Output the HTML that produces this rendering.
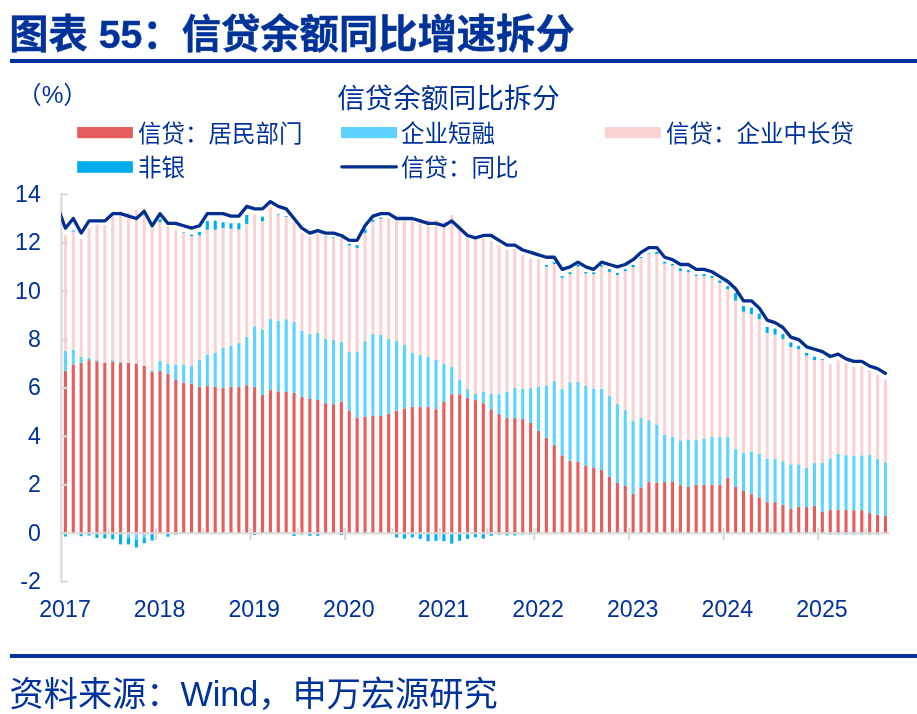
<!DOCTYPE html>
<html lang="zh-CN">
<head>
<meta charset="utf-8">
<title>图表 55：信贷余额同比增速拆分</title>
<style>
html,body{margin:0;padding:0;background:#fff;}
body{width:917px;height:714px;overflow:hidden;position:relative;font-family:"Liberation Sans","Noto Sans CJK SC",sans-serif;color:#003399;}
svg{position:absolute;left:0;top:0;display:block;}
svg text{font-family:"Liberation Sans","Noto Sans CJK SC",sans-serif;fill:#003399;}
.ax{font-size:23.2px;}
.ay{font-size:23.2px;}
.lg{font-size:23.5px;}
h1{position:absolute;left:9.2px;top:10px;margin:0;font-size:39.3px;line-height:48px;font-weight:bold;-webkit-text-stroke:0.4px #003399;white-space:nowrap;color:#003399;letter-spacing:0;}
.rule1{position:absolute;left:10px;top:59px;width:907px;height:4px;background:#003399;}
.rule2{position:absolute;left:10px;top:654px;width:907px;height:4px;background:#003399;}
.src{position:absolute;left:9.5px;top:672.3px;margin:0;font-size:34.2px;line-height:44px;white-space:nowrap;color:#003399;}
</style>
</head>
<body>
<h1>图表 55：信贷余额同比增速拆分</h1>
<div class="rule1"></div>
<svg width="917" height="714" viewBox="0 0 917 714">
<text x="17.3" y="103.3" style="font-size:24.4px">（%）</text>
<text x="448.5" y="108" text-anchor="middle" style="font-size:27.8px">信贷余额同比拆分</text>
<rect x="77.2" y="127" width="55.7" height="11.2" fill="#E55D5D"/>
<text x="138" y="141.5" class="lg">信贷：居民部门</text>
<rect x="341.1" y="127" width="55.9" height="11.2" fill="#5FD3FF"/>
<text x="401" y="141.5" class="lg">企业短融</text>
<rect x="605" y="127" width="55.7" height="11.2" fill="#FAD2D2"/>
<text x="666" y="141.5" class="lg">信贷：企业中长贷</text>
<rect x="77.2" y="161.2" width="55.7" height="11.6" fill="#00ADEE"/>
<text x="138" y="176" class="lg">非银</text>
<line x1="341.9" y1="166.8" x2="396.3" y2="166.8" stroke="#002F8F" stroke-width="3.3" stroke-linecap="round"/>
<text x="401" y="176" class="lg">信贷：同比</text>
<g>
<rect x="63.85" y="371.06" width="3.1" height="162.24" fill="#E55D5D"/>
<rect x="63.85" y="351" width="3.1" height="20.06" fill="#5FD3FF"/>
<rect x="63.85" y="234.8" width="3.1" height="116.2" fill="#FAD2D2"/>
<rect x="63.85" y="533.3" width="3.1" height="3.2" fill="#00ADEE"/>
<rect x="71.74" y="364.6" width="3.1" height="168.7" fill="#E55D5D"/>
<rect x="71.74" y="349.6" width="3.1" height="15" fill="#5FD3FF"/>
<rect x="71.74" y="231.4" width="3.1" height="118.2" fill="#FAD2D2"/>
<rect x="71.74" y="230.4" width="3.1" height="1" fill="#00ADEE"/>
<rect x="79.62" y="362.9" width="3.1" height="170.4" fill="#E55D5D"/>
<rect x="79.62" y="356.6" width="3.1" height="6.3" fill="#5FD3FF"/>
<rect x="79.62" y="238.9" width="3.1" height="117.7" fill="#FAD2D2"/>
<rect x="79.62" y="533.3" width="3.1" height="2.9" fill="#00ADEE"/>
<rect x="87.51" y="360.2" width="3.1" height="173.1" fill="#E55D5D"/>
<rect x="87.51" y="358" width="3.1" height="2.2" fill="#5FD3FF"/>
<rect x="87.51" y="227.9" width="3.1" height="130.1" fill="#FAD2D2"/>
<rect x="87.51" y="533.3" width="3.1" height="2.2" fill="#00ADEE"/>
<rect x="95.39" y="361.3" width="3.1" height="172" fill="#E55D5D"/>
<rect x="95.39" y="360.1" width="3.1" height="1.2" fill="#5FD3FF"/>
<rect x="95.39" y="224.5" width="3.1" height="135.6" fill="#FAD2D2"/>
<rect x="95.39" y="533.3" width="3.1" height="4.6" fill="#00ADEE"/>
<rect x="103.28" y="362.9" width="3.1" height="170.4" fill="#E55D5D"/>
<rect x="103.28" y="224.9" width="3.1" height="138" fill="#FAD2D2"/>
<rect x="103.28" y="533.3" width="3.1" height="5.1" fill="#00ADEE"/>
<rect x="111.16" y="361.5" width="3.1" height="171.8" fill="#E55D5D"/>
<rect x="111.16" y="360.1" width="3.1" height="1.4" fill="#5FD3FF"/>
<rect x="111.16" y="216.2" width="3.1" height="143.9" fill="#FAD2D2"/>
<rect x="111.16" y="533.3" width="3.1" height="6" fill="#00ADEE"/>
<rect x="119.05" y="362.9" width="3.1" height="170.4" fill="#E55D5D"/>
<rect x="119.05" y="362" width="3.1" height="0.9" fill="#5FD3FF"/>
<rect x="119.05" y="211.3" width="3.1" height="150.7" fill="#FAD2D2"/>
<rect x="119.05" y="533.3" width="3.1" height="11.1" fill="#00ADEE"/>
<rect x="126.93" y="362.9" width="3.1" height="170.4" fill="#E55D5D"/>
<rect x="126.93" y="212" width="3.1" height="150.9" fill="#FAD2D2"/>
<rect x="126.93" y="533.3" width="3.1" height="4.6" fill="#5FD3FF"/>
<rect x="126.93" y="537.9" width="3.1" height="6.5" fill="#00ADEE"/>
<rect x="134.81" y="363.6" width="3.1" height="169.7" fill="#E55D5D"/>
<rect x="134.81" y="209.7" width="3.1" height="153.9" fill="#FAD2D2"/>
<rect x="134.81" y="533.3" width="3.1" height="6.7" fill="#5FD3FF"/>
<rect x="134.81" y="540" width="3.1" height="7.5" fill="#00ADEE"/>
<rect x="142.7" y="366" width="3.1" height="167.3" fill="#E55D5D"/>
<rect x="142.7" y="208" width="3.1" height="158" fill="#FAD2D2"/>
<rect x="142.7" y="533.3" width="3.1" height="4.3" fill="#5FD3FF"/>
<rect x="142.7" y="537.6" width="3.1" height="5.6" fill="#00ADEE"/>
<rect x="150.58" y="371.6" width="3.1" height="161.7" fill="#E55D5D"/>
<rect x="150.58" y="370.2" width="3.1" height="1.4" fill="#5FD3FF"/>
<rect x="150.58" y="226" width="3.1" height="144.2" fill="#FAD2D2"/>
<rect x="150.58" y="533.3" width="3.1" height="7.2" fill="#00ADEE"/>
<rect x="158.47" y="371.06" width="3.1" height="162.24" fill="#E55D5D"/>
<rect x="158.47" y="360.8" width="3.1" height="10.26" fill="#5FD3FF"/>
<rect x="158.47" y="222.3" width="3.1" height="138.5" fill="#FAD2D2"/>
<rect x="158.47" y="219.3" width="3.1" height="3" fill="#00ADEE"/>
<rect x="166.35" y="373.7" width="3.1" height="159.6" fill="#E55D5D"/>
<rect x="166.35" y="363.9" width="3.1" height="9.8" fill="#5FD3FF"/>
<rect x="166.35" y="225.8" width="3.1" height="138.1" fill="#FAD2D2"/>
<rect x="166.35" y="533.3" width="3.1" height="3.4" fill="#00ADEE"/>
<rect x="174.24" y="380" width="3.1" height="153.3" fill="#E55D5D"/>
<rect x="174.24" y="364.6" width="3.1" height="15.4" fill="#5FD3FF"/>
<rect x="174.24" y="229.8" width="3.1" height="134.8" fill="#FAD2D2"/>
<rect x="174.24" y="533.3" width="3.1" height="1.2" fill="#00ADEE"/>
<rect x="182.12" y="382.75" width="3.1" height="150.55" fill="#E55D5D"/>
<rect x="182.12" y="364.6" width="3.1" height="18.15" fill="#5FD3FF"/>
<rect x="182.12" y="232.75" width="3.1" height="131.85" fill="#FAD2D2"/>
<rect x="182.12" y="232.2" width="3.1" height="0.55" fill="#00ADEE"/>
<rect x="190.01" y="383.8" width="3.1" height="149.5" fill="#E55D5D"/>
<rect x="190.01" y="366" width="3.1" height="17.8" fill="#5FD3FF"/>
<rect x="190.01" y="236.2" width="3.1" height="129.8" fill="#FAD2D2"/>
<rect x="190.01" y="234.7" width="3.1" height="1.5" fill="#00ADEE"/>
<rect x="197.89" y="386.6" width="3.1" height="146.7" fill="#E55D5D"/>
<rect x="197.89" y="359.9" width="3.1" height="26.7" fill="#5FD3FF"/>
<rect x="197.89" y="235.4" width="3.1" height="124.5" fill="#FAD2D2"/>
<rect x="197.89" y="231.9" width="3.1" height="3.5" fill="#00ADEE"/>
<rect x="205.78" y="386.1" width="3.1" height="147.2" fill="#E55D5D"/>
<rect x="205.78" y="354.5" width="3.1" height="31.6" fill="#5FD3FF"/>
<rect x="205.78" y="229.8" width="3.1" height="124.7" fill="#FAD2D2"/>
<rect x="205.78" y="221" width="3.1" height="8.8" fill="#00ADEE"/>
<rect x="213.66" y="386.8" width="3.1" height="146.5" fill="#E55D5D"/>
<rect x="213.66" y="352.9" width="3.1" height="33.9" fill="#5FD3FF"/>
<rect x="213.66" y="229.8" width="3.1" height="123.1" fill="#FAD2D2"/>
<rect x="213.66" y="220.5" width="3.1" height="9.3" fill="#00ADEE"/>
<rect x="221.55" y="388" width="3.1" height="145.3" fill="#E55D5D"/>
<rect x="221.55" y="347.7" width="3.1" height="40.3" fill="#5FD3FF"/>
<rect x="221.55" y="227.9" width="3.1" height="119.8" fill="#FAD2D2"/>
<rect x="221.55" y="222.3" width="3.1" height="5.6" fill="#00ADEE"/>
<rect x="229.44" y="386.8" width="3.1" height="146.5" fill="#E55D5D"/>
<rect x="229.44" y="345.6" width="3.1" height="41.2" fill="#5FD3FF"/>
<rect x="229.44" y="228.6" width="3.1" height="117" fill="#FAD2D2"/>
<rect x="229.44" y="223.2" width="3.1" height="5.4" fill="#00ADEE"/>
<rect x="237.32" y="387.1" width="3.1" height="146.2" fill="#E55D5D"/>
<rect x="237.32" y="343.2" width="3.1" height="43.9" fill="#5FD3FF"/>
<rect x="237.32" y="229.4" width="3.1" height="113.8" fill="#FAD2D2"/>
<rect x="237.32" y="223.2" width="3.1" height="6.2" fill="#00ADEE"/>
<rect x="245.2" y="385.2" width="3.1" height="148.1" fill="#E55D5D"/>
<rect x="245.2" y="337" width="3.1" height="48.2" fill="#5FD3FF"/>
<rect x="245.2" y="224" width="3.1" height="113" fill="#FAD2D2"/>
<rect x="245.2" y="215" width="3.1" height="9" fill="#00ADEE"/>
<rect x="253.09" y="387.1" width="3.1" height="146.2" fill="#E55D5D"/>
<rect x="253.09" y="326.2" width="3.1" height="60.9" fill="#5FD3FF"/>
<rect x="253.09" y="214.4" width="3.1" height="111.8" fill="#FAD2D2"/>
<rect x="253.09" y="533.3" width="3.1" height="1.7" fill="#00ADEE"/>
<rect x="260.97" y="395" width="3.1" height="138.3" fill="#E55D5D"/>
<rect x="260.97" y="329.5" width="3.1" height="65.5" fill="#5FD3FF"/>
<rect x="260.97" y="221.4" width="3.1" height="108.1" fill="#FAD2D2"/>
<rect x="260.97" y="216.7" width="3.1" height="4.7" fill="#00ADEE"/>
<rect x="268.86" y="390.1" width="3.1" height="143.2" fill="#E55D5D"/>
<rect x="268.86" y="319.1" width="3.1" height="71" fill="#5FD3FF"/>
<rect x="268.86" y="207.4" width="3.1" height="111.7" fill="#FAD2D2"/>
<rect x="276.74" y="391.3" width="3.1" height="142" fill="#E55D5D"/>
<rect x="276.74" y="321" width="3.1" height="70.3" fill="#5FD3FF"/>
<rect x="276.74" y="215" width="3.1" height="106" fill="#FAD2D2"/>
<rect x="276.74" y="214.3" width="3.1" height="0.7" fill="#00ADEE"/>
<rect x="284.63" y="392" width="3.1" height="141.3" fill="#E55D5D"/>
<rect x="284.63" y="319.2" width="3.1" height="72.8" fill="#5FD3FF"/>
<rect x="284.63" y="217" width="3.1" height="102.2" fill="#FAD2D2"/>
<rect x="284.63" y="216.2" width="3.1" height="0.8" fill="#00ADEE"/>
<rect x="292.51" y="392.9" width="3.1" height="140.4" fill="#E55D5D"/>
<rect x="292.51" y="321.9" width="3.1" height="71" fill="#5FD3FF"/>
<rect x="292.51" y="221.4" width="3.1" height="100.5" fill="#FAD2D2"/>
<rect x="292.51" y="533.3" width="3.1" height="2.7" fill="#00ADEE"/>
<rect x="300.4" y="396.9" width="3.1" height="136.4" fill="#E55D5D"/>
<rect x="300.4" y="330.6" width="3.1" height="66.3" fill="#5FD3FF"/>
<rect x="300.4" y="233.3" width="3.1" height="97.3" fill="#FAD2D2"/>
<rect x="300.4" y="533.3" width="3.1" height="1.3" fill="#00ADEE"/>
<rect x="308.29" y="399" width="3.1" height="134.3" fill="#E55D5D"/>
<rect x="308.29" y="334.1" width="3.1" height="64.9" fill="#5FD3FF"/>
<rect x="308.29" y="236.2" width="3.1" height="97.9" fill="#FAD2D2"/>
<rect x="308.29" y="533.3" width="3.1" height="2.5" fill="#00ADEE"/>
<rect x="316.17" y="400" width="3.1" height="133.3" fill="#E55D5D"/>
<rect x="316.17" y="333" width="3.1" height="67" fill="#5FD3FF"/>
<rect x="316.17" y="233.3" width="3.1" height="99.7" fill="#FAD2D2"/>
<rect x="316.17" y="533.3" width="3.1" height="2.5" fill="#00ADEE"/>
<rect x="324.06" y="403.2" width="3.1" height="130.1" fill="#E55D5D"/>
<rect x="324.06" y="338.4" width="3.1" height="64.8" fill="#5FD3FF"/>
<rect x="324.06" y="237.1" width="3.1" height="101.3" fill="#FAD2D2"/>
<rect x="324.06" y="236.5" width="3.1" height="0.6" fill="#00ADEE"/>
<rect x="331.94" y="404.2" width="3.1" height="129.1" fill="#E55D5D"/>
<rect x="331.94" y="339.8" width="3.1" height="64.4" fill="#5FD3FF"/>
<rect x="331.94" y="237.6" width="3.1" height="102.2" fill="#FAD2D2"/>
<rect x="331.94" y="237" width="3.1" height="0.6" fill="#00ADEE"/>
<rect x="339.82" y="401.6" width="3.1" height="131.7" fill="#E55D5D"/>
<rect x="339.82" y="342.1" width="3.1" height="59.5" fill="#5FD3FF"/>
<rect x="339.82" y="238" width="3.1" height="104.1" fill="#FAD2D2"/>
<rect x="339.82" y="533.3" width="3.1" height="1.7" fill="#00ADEE"/>
<rect x="347.71" y="410.9" width="3.1" height="122.4" fill="#E55D5D"/>
<rect x="347.71" y="352.1" width="3.1" height="58.8" fill="#5FD3FF"/>
<rect x="347.71" y="245.5" width="3.1" height="106.6" fill="#FAD2D2"/>
<rect x="347.71" y="243.7" width="3.1" height="1.8" fill="#00ADEE"/>
<rect x="355.59" y="417.5" width="3.1" height="115.8" fill="#E55D5D"/>
<rect x="355.59" y="352.1" width="3.1" height="65.4" fill="#5FD3FF"/>
<rect x="355.59" y="247.9" width="3.1" height="104.2" fill="#FAD2D2"/>
<rect x="355.59" y="245.1" width="3.1" height="2.8" fill="#00ADEE"/>
<rect x="363.48" y="417" width="3.1" height="116.3" fill="#E55D5D"/>
<rect x="363.48" y="341.1" width="3.1" height="75.9" fill="#5FD3FF"/>
<rect x="363.48" y="232.9" width="3.1" height="108.2" fill="#FAD2D2"/>
<rect x="363.48" y="229.3" width="3.1" height="3.6" fill="#00ADEE"/>
<rect x="371.36" y="415.9" width="3.1" height="117.4" fill="#E55D5D"/>
<rect x="371.36" y="334.1" width="3.1" height="81.8" fill="#5FD3FF"/>
<rect x="371.36" y="221.9" width="3.1" height="112.2" fill="#FAD2D2"/>
<rect x="371.36" y="220" width="3.1" height="1.9" fill="#00ADEE"/>
<rect x="379.25" y="415.97" width="3.1" height="117.33" fill="#E55D5D"/>
<rect x="379.25" y="334.8" width="3.1" height="81.17" fill="#5FD3FF"/>
<rect x="379.25" y="218.8" width="3.1" height="116" fill="#FAD2D2"/>
<rect x="379.25" y="217.5" width="3.1" height="1.3" fill="#00ADEE"/>
<rect x="387.13" y="413.9" width="3.1" height="119.4" fill="#E55D5D"/>
<rect x="387.13" y="339" width="3.1" height="74.9" fill="#5FD3FF"/>
<rect x="387.13" y="217.9" width="3.1" height="121.1" fill="#FAD2D2"/>
<rect x="395.02" y="410.7" width="3.1" height="122.6" fill="#E55D5D"/>
<rect x="395.02" y="340.8" width="3.1" height="69.9" fill="#5FD3FF"/>
<rect x="395.02" y="219.7" width="3.1" height="121.1" fill="#FAD2D2"/>
<rect x="395.02" y="533.3" width="3.1" height="4.2" fill="#00ADEE"/>
<rect x="402.91" y="408.5" width="3.1" height="124.8" fill="#E55D5D"/>
<rect x="402.91" y="345" width="3.1" height="63.5" fill="#5FD3FF"/>
<rect x="402.91" y="220.5" width="3.1" height="124.5" fill="#FAD2D2"/>
<rect x="402.91" y="533.3" width="3.1" height="5.4" fill="#00ADEE"/>
<rect x="410.79" y="406.9" width="3.1" height="126.4" fill="#E55D5D"/>
<rect x="410.79" y="353" width="3.1" height="53.9" fill="#5FD3FF"/>
<rect x="410.79" y="220" width="3.1" height="133" fill="#FAD2D2"/>
<rect x="410.79" y="533.3" width="3.1" height="4.2" fill="#00ADEE"/>
<rect x="418.68" y="407.1" width="3.1" height="126.2" fill="#E55D5D"/>
<rect x="418.68" y="355.1" width="3.1" height="52" fill="#5FD3FF"/>
<rect x="418.68" y="218.8" width="3.1" height="136.3" fill="#FAD2D2"/>
<rect x="418.68" y="533.3" width="3.1" height="5.6" fill="#00ADEE"/>
<rect x="426.56" y="407.1" width="3.1" height="126.2" fill="#E55D5D"/>
<rect x="426.56" y="357" width="3.1" height="50.1" fill="#5FD3FF"/>
<rect x="426.56" y="218.8" width="3.1" height="138.2" fill="#FAD2D2"/>
<rect x="426.56" y="533.3" width="3.1" height="7.9" fill="#00ADEE"/>
<rect x="434.44" y="409.2" width="3.1" height="124.1" fill="#E55D5D"/>
<rect x="434.44" y="360" width="3.1" height="49.2" fill="#5FD3FF"/>
<rect x="434.44" y="220" width="3.1" height="140" fill="#FAD2D2"/>
<rect x="434.44" y="533.3" width="3.1" height="7.5" fill="#00ADEE"/>
<rect x="442.33" y="402" width="3.1" height="131.3" fill="#E55D5D"/>
<rect x="442.33" y="364" width="3.1" height="38" fill="#5FD3FF"/>
<rect x="442.33" y="221.8" width="3.1" height="142.2" fill="#FAD2D2"/>
<rect x="442.33" y="533.3" width="3.1" height="7.9" fill="#00ADEE"/>
<rect x="450.21" y="394.2" width="3.1" height="139.1" fill="#E55D5D"/>
<rect x="450.21" y="366.8" width="3.1" height="27.4" fill="#5FD3FF"/>
<rect x="450.21" y="215" width="3.1" height="151.8" fill="#FAD2D2"/>
<rect x="450.21" y="533.3" width="3.1" height="10.3" fill="#00ADEE"/>
<rect x="458.1" y="394.2" width="3.1" height="139.1" fill="#E55D5D"/>
<rect x="458.1" y="380" width="3.1" height="14.2" fill="#5FD3FF"/>
<rect x="458.1" y="224.9" width="3.1" height="155.1" fill="#FAD2D2"/>
<rect x="458.1" y="533.3" width="3.1" height="7.5" fill="#00ADEE"/>
<rect x="465.98" y="398" width="3.1" height="135.3" fill="#E55D5D"/>
<rect x="465.98" y="389.1" width="3.1" height="8.9" fill="#5FD3FF"/>
<rect x="465.98" y="237.1" width="3.1" height="152" fill="#FAD2D2"/>
<rect x="465.98" y="533.3" width="3.1" height="5.6" fill="#00ADEE"/>
<rect x="473.87" y="400.1" width="3.1" height="133.2" fill="#E55D5D"/>
<rect x="473.87" y="394" width="3.1" height="6.1" fill="#5FD3FF"/>
<rect x="473.87" y="239.4" width="3.1" height="154.6" fill="#FAD2D2"/>
<rect x="473.87" y="533.3" width="3.1" height="3.9" fill="#00ADEE"/>
<rect x="481.75" y="403.2" width="3.1" height="130.1" fill="#E55D5D"/>
<rect x="481.75" y="391.9" width="3.1" height="11.3" fill="#5FD3FF"/>
<rect x="481.75" y="237.5" width="3.1" height="154.4" fill="#FAD2D2"/>
<rect x="481.75" y="533.3" width="3.1" height="5.4" fill="#00ADEE"/>
<rect x="489.64" y="409.2" width="3.1" height="124.1" fill="#E55D5D"/>
<rect x="489.64" y="394" width="3.1" height="15.2" fill="#5FD3FF"/>
<rect x="489.64" y="241.1" width="3.1" height="152.9" fill="#FAD2D2"/>
<rect x="489.64" y="533.3" width="3.1" height="2.5" fill="#00ADEE"/>
<rect x="497.53" y="414.2" width="3.1" height="119.1" fill="#E55D5D"/>
<rect x="497.53" y="394.2" width="3.1" height="20" fill="#5FD3FF"/>
<rect x="497.53" y="245.3" width="3.1" height="148.9" fill="#FAD2D2"/>
<rect x="497.53" y="533.3" width="3.1" height="1.2" fill="#00ADEE"/>
<rect x="505.41" y="418.1" width="3.1" height="115.2" fill="#E55D5D"/>
<rect x="505.41" y="391.9" width="3.1" height="26.2" fill="#5FD3FF"/>
<rect x="505.41" y="249.85" width="3.1" height="142.05" fill="#FAD2D2"/>
<rect x="505.41" y="533.3" width="3.1" height="2.1" fill="#00ADEE"/>
<rect x="513.3" y="418.1" width="3.1" height="115.2" fill="#E55D5D"/>
<rect x="513.3" y="387.9" width="3.1" height="30.2" fill="#5FD3FF"/>
<rect x="513.3" y="249.3" width="3.1" height="138.6" fill="#FAD2D2"/>
<rect x="513.3" y="533.3" width="3.1" height="2.1" fill="#00ADEE"/>
<rect x="521.18" y="419.1" width="3.1" height="114.2" fill="#E55D5D"/>
<rect x="521.18" y="388.75" width="3.1" height="30.35" fill="#5FD3FF"/>
<rect x="521.18" y="254.9" width="3.1" height="133.85" fill="#FAD2D2"/>
<rect x="521.18" y="533.3" width="3.1" height="1.1" fill="#00ADEE"/>
<rect x="529.07" y="423" width="3.1" height="110.3" fill="#E55D5D"/>
<rect x="529.07" y="388.05" width="3.1" height="34.95" fill="#5FD3FF"/>
<rect x="529.07" y="258.6" width="3.1" height="129.45" fill="#FAD2D2"/>
<rect x="529.07" y="533.3" width="3.1" height="1.2" fill="#00ADEE"/>
<rect x="536.95" y="430.8" width="3.1" height="102.5" fill="#E55D5D"/>
<rect x="536.95" y="387" width="3.1" height="43.8" fill="#5FD3FF"/>
<rect x="536.95" y="259.3" width="3.1" height="127.7" fill="#FAD2D2"/>
<rect x="544.84" y="438" width="3.1" height="95.3" fill="#E55D5D"/>
<rect x="544.84" y="385.3" width="3.1" height="52.7" fill="#5FD3FF"/>
<rect x="544.84" y="266.8" width="3.1" height="118.5" fill="#FAD2D2"/>
<rect x="544.84" y="265" width="3.1" height="1.8" fill="#00ADEE"/>
<rect x="552.72" y="445.1" width="3.1" height="88.2" fill="#E55D5D"/>
<rect x="552.72" y="381.1" width="3.1" height="64" fill="#5FD3FF"/>
<rect x="552.72" y="264" width="3.1" height="117.1" fill="#FAD2D2"/>
<rect x="552.72" y="262.2" width="3.1" height="1.8" fill="#00ADEE"/>
<rect x="560.61" y="455.4" width="3.1" height="77.9" fill="#E55D5D"/>
<rect x="560.61" y="388.6" width="3.1" height="66.8" fill="#5FD3FF"/>
<rect x="560.61" y="277.9" width="3.1" height="110.7" fill="#FAD2D2"/>
<rect x="560.61" y="276.2" width="3.1" height="1.7" fill="#00ADEE"/>
<rect x="568.49" y="460.7" width="3.1" height="72.6" fill="#E55D5D"/>
<rect x="568.49" y="382.2" width="3.1" height="78.5" fill="#5FD3FF"/>
<rect x="568.49" y="274.1" width="3.1" height="108.1" fill="#FAD2D2"/>
<rect x="568.49" y="272.2" width="3.1" height="1.9" fill="#00ADEE"/>
<rect x="576.38" y="461.9" width="3.1" height="71.4" fill="#E55D5D"/>
<rect x="576.38" y="382" width="3.1" height="79.9" fill="#5FD3FF"/>
<rect x="576.38" y="266.8" width="3.1" height="115.2" fill="#FAD2D2"/>
<rect x="576.38" y="265" width="3.1" height="1.8" fill="#00ADEE"/>
<rect x="584.26" y="465.9" width="3.1" height="67.4" fill="#E55D5D"/>
<rect x="584.26" y="386" width="3.1" height="79.9" fill="#5FD3FF"/>
<rect x="584.26" y="273.4" width="3.1" height="112.6" fill="#FAD2D2"/>
<rect x="584.26" y="272" width="3.1" height="1.4" fill="#00ADEE"/>
<rect x="592.14" y="468" width="3.1" height="65.3" fill="#E55D5D"/>
<rect x="592.14" y="389" width="3.1" height="79" fill="#5FD3FF"/>
<rect x="592.14" y="274.1" width="3.1" height="114.9" fill="#FAD2D2"/>
<rect x="592.14" y="272.4" width="3.1" height="1.7" fill="#00ADEE"/>
<rect x="600.03" y="470.1" width="3.1" height="63.2" fill="#E55D5D"/>
<rect x="600.03" y="388.6" width="3.1" height="81.5" fill="#5FD3FF"/>
<rect x="600.03" y="266.6" width="3.1" height="122" fill="#FAD2D2"/>
<rect x="600.03" y="265" width="3.1" height="1.6" fill="#00ADEE"/>
<rect x="607.91" y="476.7" width="3.1" height="56.6" fill="#E55D5D"/>
<rect x="607.91" y="396.1" width="3.1" height="80.6" fill="#5FD3FF"/>
<rect x="607.91" y="271.8" width="3.1" height="124.3" fill="#FAD2D2"/>
<rect x="607.91" y="269.2" width="3.1" height="2.6" fill="#00ADEE"/>
<rect x="615.8" y="483" width="3.1" height="50.3" fill="#E55D5D"/>
<rect x="615.8" y="404" width="3.1" height="79" fill="#5FD3FF"/>
<rect x="615.8" y="275" width="3.1" height="129" fill="#FAD2D2"/>
<rect x="615.8" y="272.9" width="3.1" height="2.1" fill="#00ADEE"/>
<rect x="623.69" y="486" width="3.1" height="47.3" fill="#E55D5D"/>
<rect x="623.69" y="410.1" width="3.1" height="75.9" fill="#5FD3FF"/>
<rect x="623.69" y="271.1" width="3.1" height="139" fill="#FAD2D2"/>
<rect x="623.69" y="269.2" width="3.1" height="1.9" fill="#00ADEE"/>
<rect x="631.57" y="494" width="3.1" height="39.3" fill="#E55D5D"/>
<rect x="631.57" y="421.1" width="3.1" height="72.9" fill="#5FD3FF"/>
<rect x="631.57" y="267.3" width="3.1" height="153.8" fill="#FAD2D2"/>
<rect x="631.57" y="264.8" width="3.1" height="2.5" fill="#00ADEE"/>
<rect x="639.46" y="487.4" width="3.1" height="45.9" fill="#E55D5D"/>
<rect x="639.46" y="418.1" width="3.1" height="69.3" fill="#5FD3FF"/>
<rect x="639.46" y="257.9" width="3.1" height="160.2" fill="#FAD2D2"/>
<rect x="639.46" y="257" width="3.1" height="0.9" fill="#00ADEE"/>
<rect x="647.34" y="482.1" width="3.1" height="51.2" fill="#E55D5D"/>
<rect x="647.34" y="420.2" width="3.1" height="61.9" fill="#5FD3FF"/>
<rect x="647.34" y="253.7" width="3.1" height="166.5" fill="#FAD2D2"/>
<rect x="647.34" y="253" width="3.1" height="0.7" fill="#00ADEE"/>
<rect x="655.23" y="482.8" width="3.1" height="50.5" fill="#E55D5D"/>
<rect x="655.23" y="424.4" width="3.1" height="58.4" fill="#5FD3FF"/>
<rect x="655.23" y="254" width="3.1" height="170.4" fill="#FAD2D2"/>
<rect x="655.23" y="251.9" width="3.1" height="2.1" fill="#00ADEE"/>
<rect x="663.11" y="482.1" width="3.1" height="51.2" fill="#E55D5D"/>
<rect x="663.11" y="435" width="3.1" height="47.1" fill="#5FD3FF"/>
<rect x="663.11" y="263.6" width="3.1" height="171.4" fill="#FAD2D2"/>
<rect x="663.11" y="261.7" width="3.1" height="1.9" fill="#00ADEE"/>
<rect x="671" y="481.6" width="3.1" height="51.7" fill="#E55D5D"/>
<rect x="671" y="436.8" width="3.1" height="44.8" fill="#5FD3FF"/>
<rect x="671" y="265.5" width="3.1" height="171.3" fill="#FAD2D2"/>
<rect x="671" y="264" width="3.1" height="1.5" fill="#00ADEE"/>
<rect x="678.88" y="485.1" width="3.1" height="48.2" fill="#E55D5D"/>
<rect x="678.88" y="440.4" width="3.1" height="44.7" fill="#5FD3FF"/>
<rect x="678.88" y="271.1" width="3.1" height="169.3" fill="#FAD2D2"/>
<rect x="678.88" y="268.3" width="3.1" height="2.8" fill="#00ADEE"/>
<rect x="686.76" y="487" width="3.1" height="46.3" fill="#E55D5D"/>
<rect x="686.76" y="439.9" width="3.1" height="47.1" fill="#5FD3FF"/>
<rect x="686.76" y="272.2" width="3.1" height="167.7" fill="#FAD2D2"/>
<rect x="686.76" y="270.1" width="3.1" height="2.1" fill="#00ADEE"/>
<rect x="694.65" y="484.7" width="3.1" height="48.6" fill="#E55D5D"/>
<rect x="694.65" y="440.2" width="3.1" height="44.5" fill="#5FD3FF"/>
<rect x="694.65" y="275.9" width="3.1" height="164.3" fill="#FAD2D2"/>
<rect x="694.65" y="274.7" width="3.1" height="1.2" fill="#00ADEE"/>
<rect x="702.53" y="484.9" width="3.1" height="48.4" fill="#E55D5D"/>
<rect x="702.53" y="439" width="3.1" height="45.9" fill="#5FD3FF"/>
<rect x="702.53" y="276.3" width="3.1" height="162.7" fill="#FAD2D2"/>
<rect x="702.53" y="274" width="3.1" height="2.3" fill="#00ADEE"/>
<rect x="710.42" y="484.9" width="3.1" height="48.4" fill="#E55D5D"/>
<rect x="710.42" y="436.75" width="3.1" height="48.15" fill="#5FD3FF"/>
<rect x="710.42" y="278" width="3.1" height="158.75" fill="#FAD2D2"/>
<rect x="710.42" y="275.8" width="3.1" height="2.2" fill="#00ADEE"/>
<rect x="718.3" y="484.7" width="3.1" height="48.6" fill="#E55D5D"/>
<rect x="718.3" y="436.75" width="3.1" height="47.95" fill="#5FD3FF"/>
<rect x="718.3" y="282.9" width="3.1" height="153.85" fill="#FAD2D2"/>
<rect x="718.3" y="280.5" width="3.1" height="2.4" fill="#00ADEE"/>
<rect x="726.19" y="477.9" width="3.1" height="55.4" fill="#E55D5D"/>
<rect x="726.19" y="437.1" width="3.1" height="40.8" fill="#5FD3FF"/>
<rect x="726.19" y="289.2" width="3.1" height="147.9" fill="#FAD2D2"/>
<rect x="726.19" y="286.1" width="3.1" height="3.1" fill="#00ADEE"/>
<rect x="734.08" y="487" width="3.1" height="46.3" fill="#E55D5D"/>
<rect x="734.08" y="449.1" width="3.1" height="37.9" fill="#5FD3FF"/>
<rect x="734.08" y="300.7" width="3.1" height="148.4" fill="#FAD2D2"/>
<rect x="734.08" y="293" width="3.1" height="7.7" fill="#00ADEE"/>
<rect x="741.96" y="491" width="3.1" height="42.3" fill="#E55D5D"/>
<rect x="741.96" y="453" width="3.1" height="38" fill="#5FD3FF"/>
<rect x="741.96" y="311.7" width="3.1" height="141.3" fill="#FAD2D2"/>
<rect x="741.96" y="306" width="3.1" height="5.7" fill="#00ADEE"/>
<rect x="749.85" y="494.2" width="3.1" height="39.1" fill="#E55D5D"/>
<rect x="749.85" y="451.9" width="3.1" height="42.3" fill="#5FD3FF"/>
<rect x="749.85" y="314" width="3.1" height="137.9" fill="#FAD2D2"/>
<rect x="749.85" y="307.7" width="3.1" height="6.3" fill="#00ADEE"/>
<rect x="757.73" y="497.5" width="3.1" height="35.8" fill="#E55D5D"/>
<rect x="757.73" y="453.7" width="3.1" height="43.8" fill="#5FD3FF"/>
<rect x="757.73" y="319.2" width="3.1" height="134.5" fill="#FAD2D2"/>
<rect x="757.73" y="313.6" width="3.1" height="5.6" fill="#00ADEE"/>
<rect x="765.62" y="502.2" width="3.1" height="31.1" fill="#E55D5D"/>
<rect x="765.62" y="458.9" width="3.1" height="43.3" fill="#5FD3FF"/>
<rect x="765.62" y="333" width="3.1" height="125.9" fill="#FAD2D2"/>
<rect x="765.62" y="326.9" width="3.1" height="6.1" fill="#00ADEE"/>
<rect x="773.5" y="502.2" width="3.1" height="31.1" fill="#E55D5D"/>
<rect x="773.5" y="458.9" width="3.1" height="43.3" fill="#5FD3FF"/>
<rect x="773.5" y="334.6" width="3.1" height="124.3" fill="#FAD2D2"/>
<rect x="773.5" y="328.6" width="3.1" height="6" fill="#00ADEE"/>
<rect x="781.38" y="505" width="3.1" height="28.3" fill="#E55D5D"/>
<rect x="781.38" y="461.2" width="3.1" height="43.8" fill="#5FD3FF"/>
<rect x="781.38" y="339.1" width="3.1" height="122.1" fill="#FAD2D2"/>
<rect x="781.38" y="334" width="3.1" height="5.1" fill="#00ADEE"/>
<rect x="789.27" y="508.6" width="3.1" height="24.7" fill="#E55D5D"/>
<rect x="789.27" y="464.3" width="3.1" height="44.3" fill="#5FD3FF"/>
<rect x="789.27" y="347" width="3.1" height="117.3" fill="#FAD2D2"/>
<rect x="789.27" y="342.4" width="3.1" height="4.6" fill="#00ADEE"/>
<rect x="797.15" y="506.9" width="3.1" height="26.4" fill="#E55D5D"/>
<rect x="797.15" y="464.3" width="3.1" height="42.6" fill="#5FD3FF"/>
<rect x="797.15" y="349.2" width="3.1" height="115.1" fill="#FAD2D2"/>
<rect x="797.15" y="345.9" width="3.1" height="3.3" fill="#00ADEE"/>
<rect x="805.04" y="507.1" width="3.1" height="26.2" fill="#E55D5D"/>
<rect x="805.04" y="467.6" width="3.1" height="39.5" fill="#5FD3FF"/>
<rect x="805.04" y="355.7" width="3.1" height="111.9" fill="#FAD2D2"/>
<rect x="805.04" y="352.9" width="3.1" height="2.8" fill="#00ADEE"/>
<rect x="812.92" y="505.85" width="3.1" height="27.45" fill="#E55D5D"/>
<rect x="812.92" y="463.1" width="3.1" height="42.75" fill="#5FD3FF"/>
<rect x="812.92" y="360" width="3.1" height="103.1" fill="#FAD2D2"/>
<rect x="812.92" y="356.7" width="3.1" height="3.3" fill="#00ADEE"/>
<rect x="820.81" y="511.8" width="3.1" height="21.5" fill="#E55D5D"/>
<rect x="820.81" y="462.9" width="3.1" height="48.9" fill="#5FD3FF"/>
<rect x="820.81" y="360" width="3.1" height="102.9" fill="#FAD2D2"/>
<rect x="820.81" y="359.1" width="3.1" height="0.9" fill="#00ADEE"/>
<rect x="828.7" y="510" width="3.1" height="23.3" fill="#E55D5D"/>
<rect x="828.7" y="458.4" width="3.1" height="51.6" fill="#5FD3FF"/>
<rect x="828.7" y="363.7" width="3.1" height="94.7" fill="#FAD2D2"/>
<rect x="828.7" y="533.3" width="3.1" height="1.2" fill="#00ADEE"/>
<rect x="836.58" y="510" width="3.1" height="23.3" fill="#E55D5D"/>
<rect x="836.58" y="454" width="3.1" height="56" fill="#5FD3FF"/>
<rect x="836.58" y="360.4" width="3.1" height="93.6" fill="#FAD2D2"/>
<rect x="836.58" y="533.3" width="3.1" height="1.1" fill="#00ADEE"/>
<rect x="844.47" y="510" width="3.1" height="23.3" fill="#E55D5D"/>
<rect x="844.47" y="455.1" width="3.1" height="54.9" fill="#5FD3FF"/>
<rect x="844.47" y="363.7" width="3.1" height="91.4" fill="#FAD2D2"/>
<rect x="844.47" y="533.3" width="3.1" height="1.3" fill="#00ADEE"/>
<rect x="852.35" y="510.3" width="3.1" height="23" fill="#E55D5D"/>
<rect x="852.35" y="456" width="3.1" height="54.3" fill="#5FD3FF"/>
<rect x="852.35" y="366.6" width="3.1" height="89.4" fill="#FAD2D2"/>
<rect x="852.35" y="533.3" width="3.1" height="1.3" fill="#00ADEE"/>
<rect x="860.24" y="510.3" width="3.1" height="23" fill="#E55D5D"/>
<rect x="860.24" y="455.3" width="3.1" height="55" fill="#5FD3FF"/>
<rect x="860.24" y="366.3" width="3.1" height="89" fill="#FAD2D2"/>
<rect x="860.24" y="533.3" width="3.1" height="1.2" fill="#00ADEE"/>
<rect x="868.12" y="513.1" width="3.1" height="20.2" fill="#E55D5D"/>
<rect x="868.12" y="455" width="3.1" height="58.1" fill="#5FD3FF"/>
<rect x="868.12" y="370.3" width="3.1" height="84.7" fill="#FAD2D2"/>
<rect x="868.12" y="533.3" width="3.1" height="1.15" fill="#00ADEE"/>
<rect x="876" y="514.6" width="3.1" height="18.7" fill="#E55D5D"/>
<rect x="876" y="459.1" width="3.1" height="55.5" fill="#5FD3FF"/>
<rect x="876" y="374.7" width="3.1" height="84.4" fill="#FAD2D2"/>
<rect x="876" y="533.3" width="3.1" height="1.15" fill="#00ADEE"/>
<rect x="883.89" y="516" width="3.1" height="17.3" fill="#E55D5D"/>
<rect x="883.89" y="463" width="3.1" height="53" fill="#5FD3FF"/>
<rect x="883.89" y="379.4" width="3.1" height="83.6" fill="#FAD2D2"/>
</g>
<g>
<line x1="61.4" y1="193.3" x2="61.4" y2="582.6" stroke="#D9D9D9" stroke-width="2.1"/>
<line x1="61.4" y1="194.3" x2="68" y2="194.3" stroke="#D9D9D9" stroke-width="2.1"/>
<line x1="61.4" y1="242.72" x2="68" y2="242.72" stroke="#D9D9D9" stroke-width="2.1"/>
<line x1="61.4" y1="291.14" x2="68" y2="291.14" stroke="#D9D9D9" stroke-width="2.1"/>
<line x1="61.4" y1="339.56" x2="68" y2="339.56" stroke="#D9D9D9" stroke-width="2.1"/>
<line x1="61.4" y1="387.98" x2="68" y2="387.98" stroke="#D9D9D9" stroke-width="2.1"/>
<line x1="61.4" y1="436.4" x2="68" y2="436.4" stroke="#D9D9D9" stroke-width="2.1"/>
<line x1="61.4" y1="484.82" x2="68" y2="484.82" stroke="#D9D9D9" stroke-width="2.1"/>
<line x1="61.4" y1="533.24" x2="68" y2="533.24" stroke="#D9D9D9" stroke-width="2.1"/>
<line x1="61.4" y1="581.66" x2="68" y2="581.66" stroke="#D9D9D9" stroke-width="2.1"/>
<line x1="60.25" y1="533.3" x2="889.3" y2="533.3" stroke="#D9D9D9" stroke-width="2.1"/>
<line x1="155.92" y1="527.9" x2="155.92" y2="540" stroke="#D9D9D9" stroke-width="2.1"/>
<line x1="250.54" y1="527.9" x2="250.54" y2="540" stroke="#D9D9D9" stroke-width="2.1"/>
<line x1="345.16" y1="527.9" x2="345.16" y2="540" stroke="#D9D9D9" stroke-width="2.1"/>
<line x1="439.78" y1="527.9" x2="439.78" y2="540" stroke="#D9D9D9" stroke-width="2.1"/>
<line x1="534.4" y1="527.9" x2="534.4" y2="540" stroke="#D9D9D9" stroke-width="2.1"/>
<line x1="629.02" y1="527.9" x2="629.02" y2="540" stroke="#D9D9D9" stroke-width="2.1"/>
<line x1="723.64" y1="527.9" x2="723.64" y2="540" stroke="#D9D9D9" stroke-width="2.1"/>
<line x1="818.26" y1="527.9" x2="818.26" y2="540" stroke="#D9D9D9" stroke-width="2.1"/>
<line x1="108.61" y1="528.2" x2="108.61" y2="533.3" stroke="#D9D9D9" stroke-width="2.1"/>
<line x1="203.23" y1="528.2" x2="203.23" y2="533.3" stroke="#D9D9D9" stroke-width="2.1"/>
<line x1="297.85" y1="528.2" x2="297.85" y2="533.3" stroke="#D9D9D9" stroke-width="2.1"/>
<line x1="392.47" y1="528.2" x2="392.47" y2="533.3" stroke="#D9D9D9" stroke-width="2.1"/>
<line x1="487.09" y1="528.2" x2="487.09" y2="533.3" stroke="#D9D9D9" stroke-width="2.1"/>
<line x1="581.71" y1="528.2" x2="581.71" y2="533.3" stroke="#D9D9D9" stroke-width="2.1"/>
<line x1="676.33" y1="528.2" x2="676.33" y2="533.3" stroke="#D9D9D9" stroke-width="2.1"/>
<line x1="770.95" y1="528.2" x2="770.95" y2="533.3" stroke="#D9D9D9" stroke-width="2.1"/>
<line x1="865.57" y1="528.2" x2="865.57" y2="533.3" stroke="#D9D9D9" stroke-width="2.1"/>
</g>
<clipPath id="cp"><rect x="61.2" y="180" width="840" height="400"/></clipPath>
<polyline clip-path="url(#cp)" points="57.52,206.41 65.4,228.2 73.29,218.52 81.17,233.05 89.06,220.94 96.94,220.94 104.83,220.94 112.71,213.68 120.59,213.68 128.48,216.1 136.37,218.52 144.25,211.26 152.13,225.78 160.02,213.68 167.91,223.36 175.79,223.36 183.68,225.78 191.56,228.2 199.44,225.78 207.33,213.68 215.22,213.68 223.1,213.68 230.99,216.1 238.87,216.1 246.75,206.41 254.64,208.84 262.52,208.84 270.41,201.57 278.29,206.41 286.18,208.84 294.06,218.52 301.95,228.2 309.84,233.05 317.72,230.62 325.61,233.05 333.49,233.05 341.38,235.47 349.26,240.31 357.14,240.31 365.03,225.78 372.91,216.1 380.8,213.68 388.68,213.68 396.57,218.52 404.46,218.52 412.34,218.52 420.23,220.94 428.11,223.36 436,223.36 443.88,225.78 451.76,220.94 459.65,228.2 467.53,235.47 475.42,237.89 483.3,235.47 491.19,235.47 499.08,240.31 506.96,245.15 514.85,245.15 522.73,249.99 530.62,252.41 538.5,254.83 546.38,257.26 554.27,257.26 562.15,269.36 570.04,266.94 577.92,262.1 585.81,266.94 593.69,269.36 601.58,262.1 609.46,264.52 617.35,266.94 625.24,264.52 633.12,259.68 641,252.41 648.89,247.57 656.77,247.57 664.66,257.26 672.54,259.68 680.43,264.52 688.31,264.52 696.2,269.36 704.08,269.36 711.97,271.78 719.85,276.62 727.74,281.47 735.62,288.73 743.51,300.83 751.39,300.83 759.28,308.1 767.16,320.2 775.05,322.62 782.93,327.47 790.82,337.15 798.7,339.57 806.59,346.83 814.47,349.25 822.36,351.67 830.25,356.52 838.13,354.1 846.01,358.94 853.9,361.36 861.78,361.36 869.67,366.2 877.55,368.62 885.44,373.46" fill="none" stroke="#002F8F" stroke-width="3.3" stroke-linejoin="round" stroke-linecap="round"/>
<g>
<text x="40.9" y="201.8" text-anchor="end" class="ay">14</text>
<text x="40.9" y="250.22" text-anchor="end" class="ay">12</text>
<text x="40.9" y="298.64" text-anchor="end" class="ay">10</text>
<text x="40.9" y="347.06" text-anchor="end" class="ay">8</text>
<text x="40.9" y="395.48" text-anchor="end" class="ay">6</text>
<text x="40.9" y="443.9" text-anchor="end" class="ay">4</text>
<text x="40.9" y="492.32" text-anchor="end" class="ay">2</text>
<text x="40.9" y="540.74" text-anchor="end" class="ay">0</text>
<text x="40.9" y="589.16" text-anchor="end" class="ay">-2</text>
</g>
<g>
<text x="65" y="617.3" text-anchor="middle" class="ax">2017</text>
<text x="159.62" y="617.3" text-anchor="middle" class="ax">2018</text>
<text x="254.24" y="617.3" text-anchor="middle" class="ax">2019</text>
<text x="348.86" y="617.3" text-anchor="middle" class="ax">2020</text>
<text x="443.48" y="617.3" text-anchor="middle" class="ax">2021</text>
<text x="538.1" y="617.3" text-anchor="middle" class="ax">2022</text>
<text x="632.72" y="617.3" text-anchor="middle" class="ax">2023</text>
<text x="727.34" y="617.3" text-anchor="middle" class="ax">2024</text>
<text x="821.96" y="617.3" text-anchor="middle" class="ax">2025</text>
</g>
</svg>
<div class="rule2"></div>
<p class="src">资料来源：Wind，申万宏源研究</p>
</body>
</html>
